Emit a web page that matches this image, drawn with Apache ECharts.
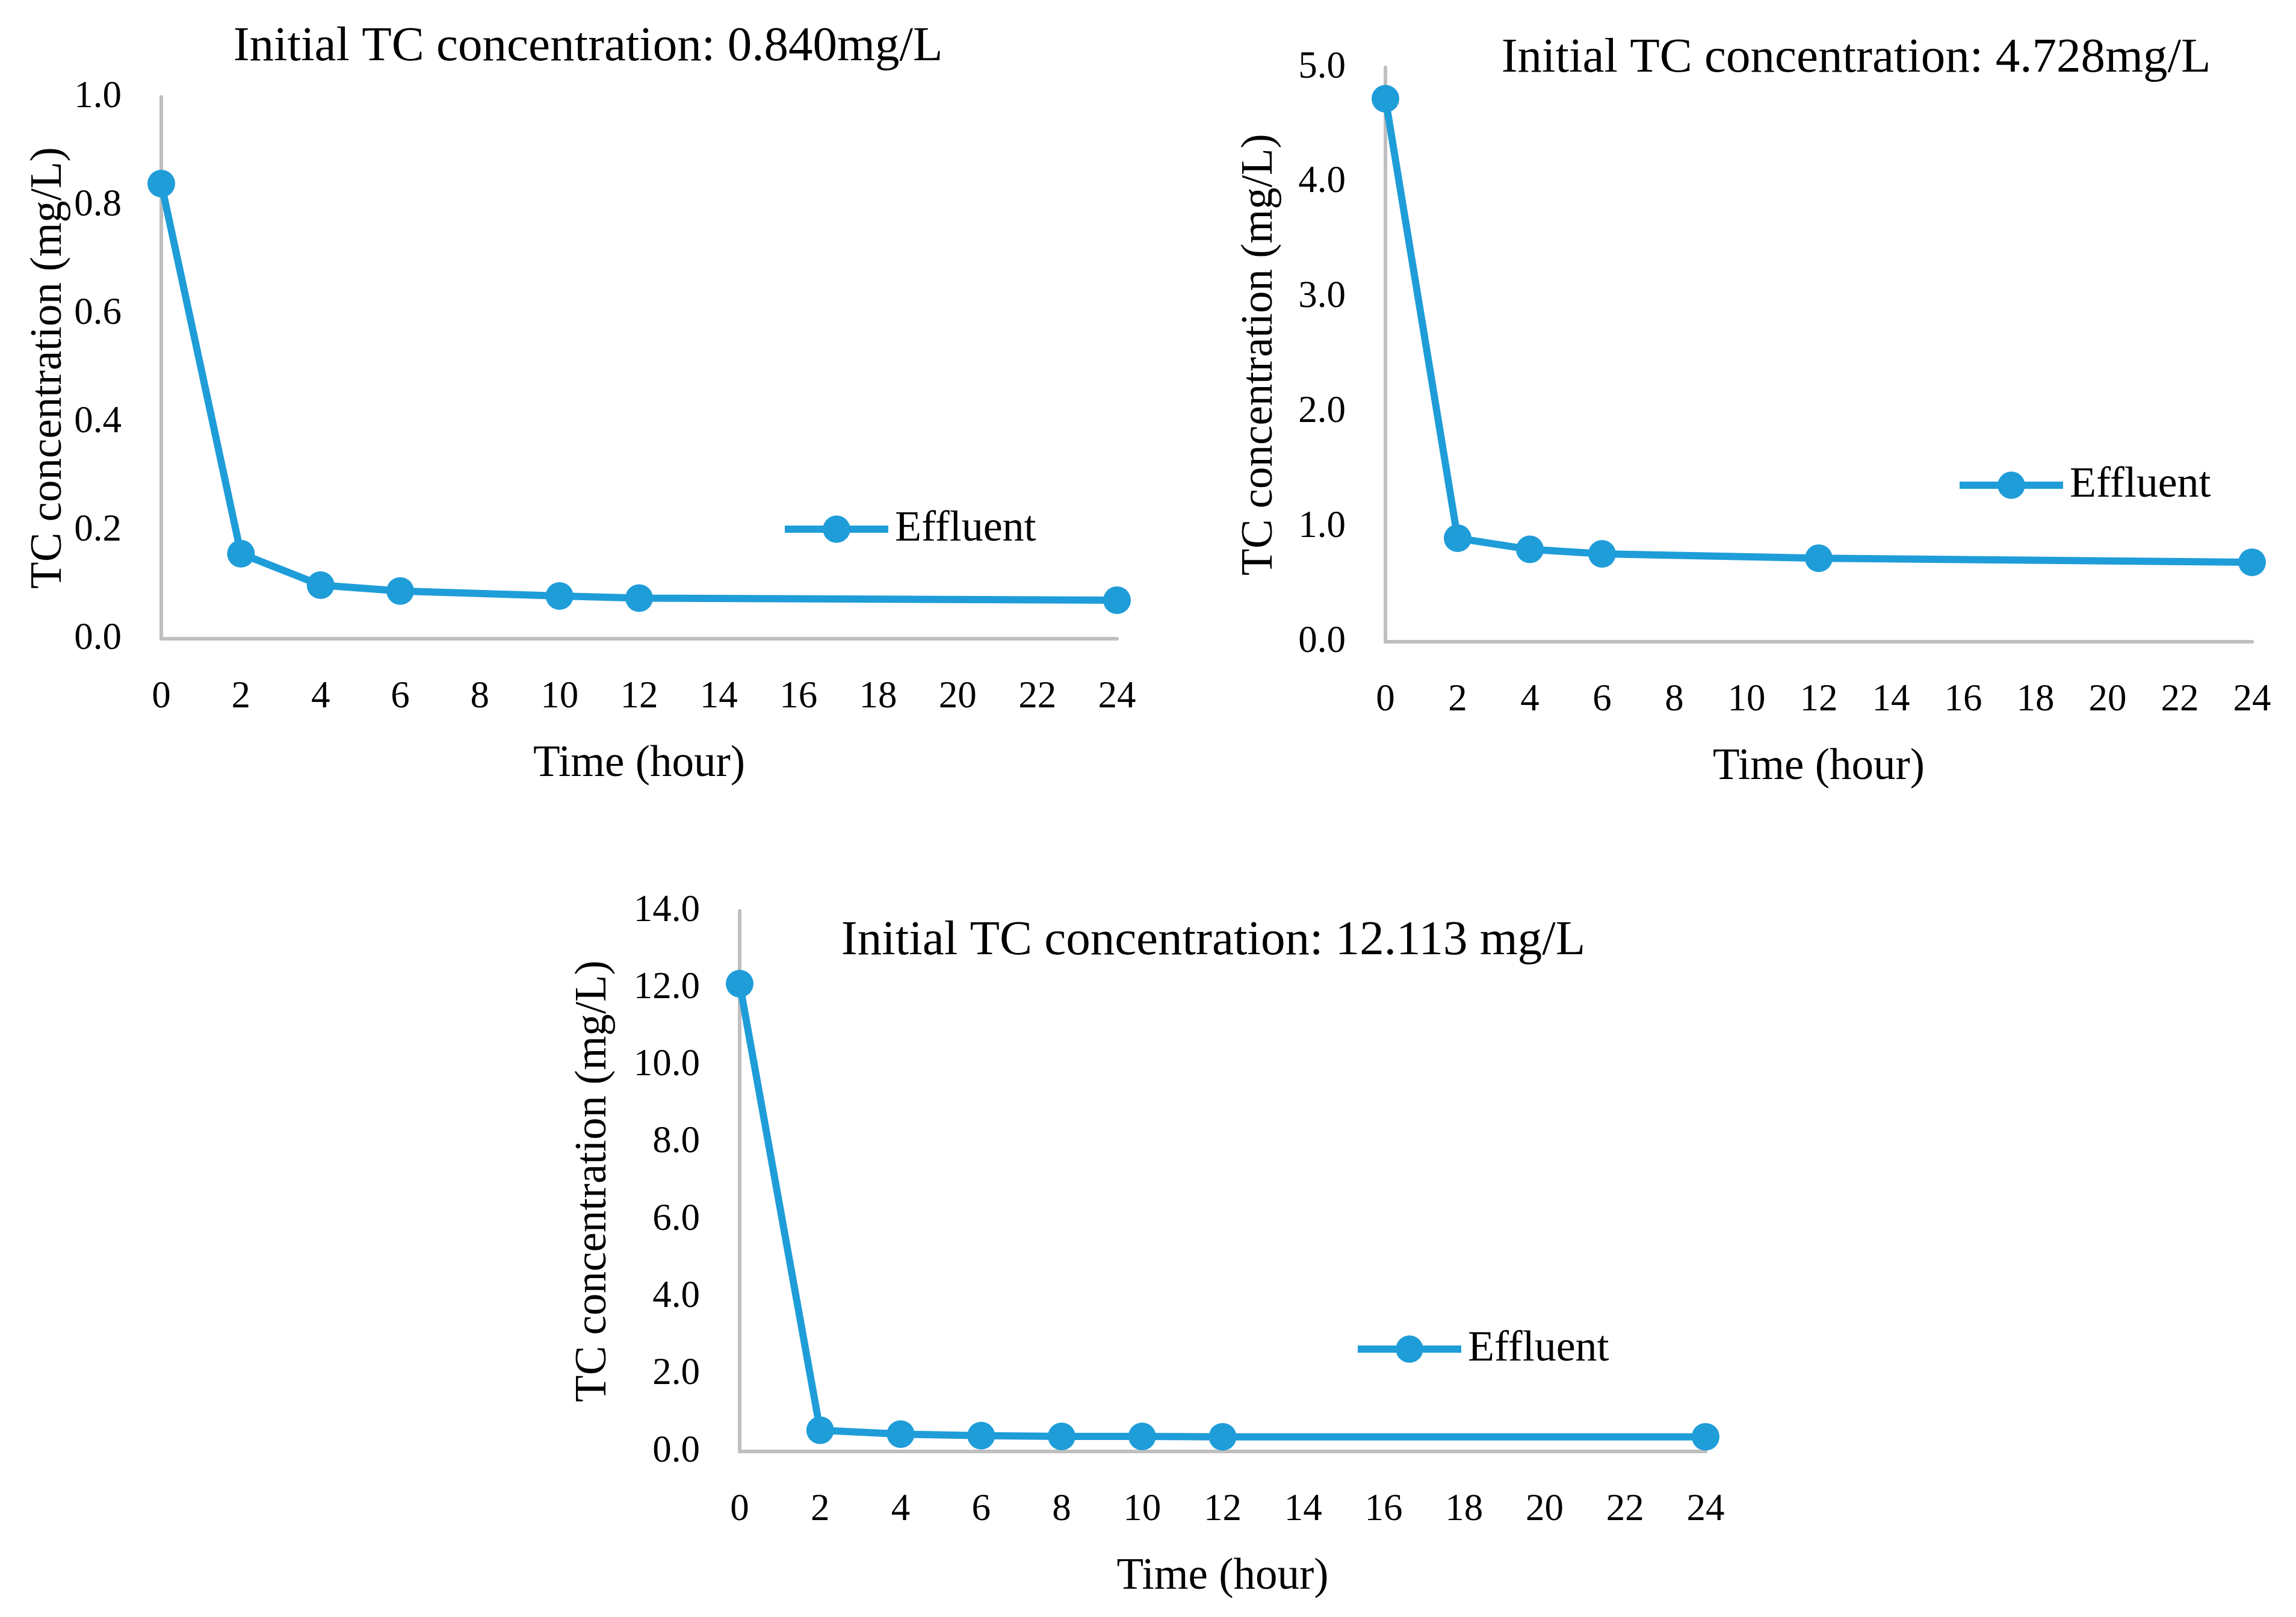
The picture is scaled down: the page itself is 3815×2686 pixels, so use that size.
<!DOCTYPE html>
<html>
<head>
<meta charset="utf-8">
<script src="https://cdn.jsdelivr.net/npm/echarts@6/dist/echarts.min.js"></script>
<style>
html, body { margin: 0; padding: 0; background: #ffffff; }
#chart { width: 3815px; height: 2686px; }
</style>
</head>
<body>
<div id="chart"></div>
<script>
// ---- data ----
const hours1 = [0, 2, 4, 6, 10, 12, 24];
const tc1 = [0.840, 0.157, 0.099, 0.088, 0.079, 0.075, 0.071];
const hours2 = [0, 2, 4, 6, 12, 24];
const tc2 = [4.728, 0.901, 0.804, 0.765, 0.727, 0.692];
const hours3 = [0, 2, 4, 6, 8, 10, 12, 24];
const tc3 = [12.113, 0.55, 0.45, 0.41, 0.39, 0.39, 0.38, 0.38];
const titles = [
  'Initial TC concentration: 0.840mg/L',
  'Initial TC concentration: 4.728mg/L',
  'Initial TC concentration: 12.113 mg/L'
];
const seriesName = 'Effluent';
const xName = 'Time (hour)';
const yName = 'TC concentration (mg/L)';
const yMax = [1.0, 5.0, 14.0];
const yStep = [0.2, 1.0, 2.0];
const xMax = 24, xStep = 2;

// ---- styles / layout ----
const FONT = '"Liberation Serif", "Times New Roman", serif';
const BLUE = '#1f9dd9';
const GRAY = '#bfbfbf';
const grids = [
  { left: 268, top: 161, width: 1588, height: 900 },
  { left: 2302, top: 112, width: 1440, height: 954 },
  { left: 1229, top: 1513, width: 1605, height: 898 }
];
const titlePos = [
  { x: 977, y: 38 },
  { x: 3084, y: 57 },
  { x: 2016, y: 1523 }
];
const yNameGap = [150, 172, 206];
const legendPos = [
  { left: 1298, top: 843 },
  { left: 3250, top: 770 },
  { left: 2250, top: 2205 }
];
const xs = [hours1, hours2, hours3];
const ys = [tc1, tc2, tc3];

const option = {
  animation: false,
  backgroundColor: '#ffffff',
  title: titles.map((t, i) => ({
    text: t,
    left: titlePos[i].x,
    top: titlePos[i].y,
    textAlign: 'center',
    padding: 0,
    textStyle: { fontFamily: FONT, fontSize: 81, fontWeight: 'normal', color: '#000' }
  })),
  legend: legendPos.map((p) => ({
    data: [seriesName],
    left: p.left,
    top: p.top,
    padding: 0,
    itemWidth: 172,
    itemHeight: 57,
    selectedMode: false,
    lineStyle: { width: 12 },
    textStyle: { fontFamily: FONT, fontSize: 72, color: '#000', padding: [0, 0, 0, 6] }
  })),
  grid: grids.map(g => Object.assign({ containLabel: false }, g)),
  xAxis: grids.map((g, i) => ({
    type: 'value',
    gridIndex: i,
    min: 0, max: xMax, interval: xStep,
    name: xName,
    nameLocation: 'middle',
    nameGap: 172,
    nameTextStyle: { fontFamily: FONT, fontSize: 73, color: '#000' },
    axisLine: { show: true, lineStyle: { color: GRAY, width: 6 } },
    axisTick: { show: false },
    splitLine: { show: false },
    axisLabel: { margin: 66, fontFamily: FONT, fontSize: 63, color: '#000' }
  })),
  yAxis: grids.map((g, i) => ({
    type: 'value',
    gridIndex: i,
    min: 0, max: yMax[i], interval: yStep[i],
    name: yName,
    nameLocation: 'middle',
    nameGap: yNameGap[i],
    nameTextStyle: { fontFamily: FONT, fontSize: 73, color: '#000' },
    axisLine: { show: true, lineStyle: { color: GRAY, width: 6 } },
    axisTick: { show: false },
    splitLine: { show: false },
    axisLabel: { margin: 66, fontFamily: FONT, fontSize: 63, color: '#000',
      formatter: v => v.toFixed(1) }
  })),
  series: ys.map((arr, i) => ({
    name: seriesName,
    type: 'line',
    xAxisIndex: i,
    yAxisIndex: i,
    data: arr.map((v, k) => [xs[i][k], v]),
    symbol: 'circle',
    symbolSize: 46,
    showSymbol: true,
    clip: false,
    lineStyle: { color: BLUE, width: 12 },
    itemStyle: { color: BLUE }
  }))
};

const chart = echarts.init(document.getElementById('chart'), null, { renderer: 'canvas' });
chart.setOption(option);
</script>
</body>
</html>
